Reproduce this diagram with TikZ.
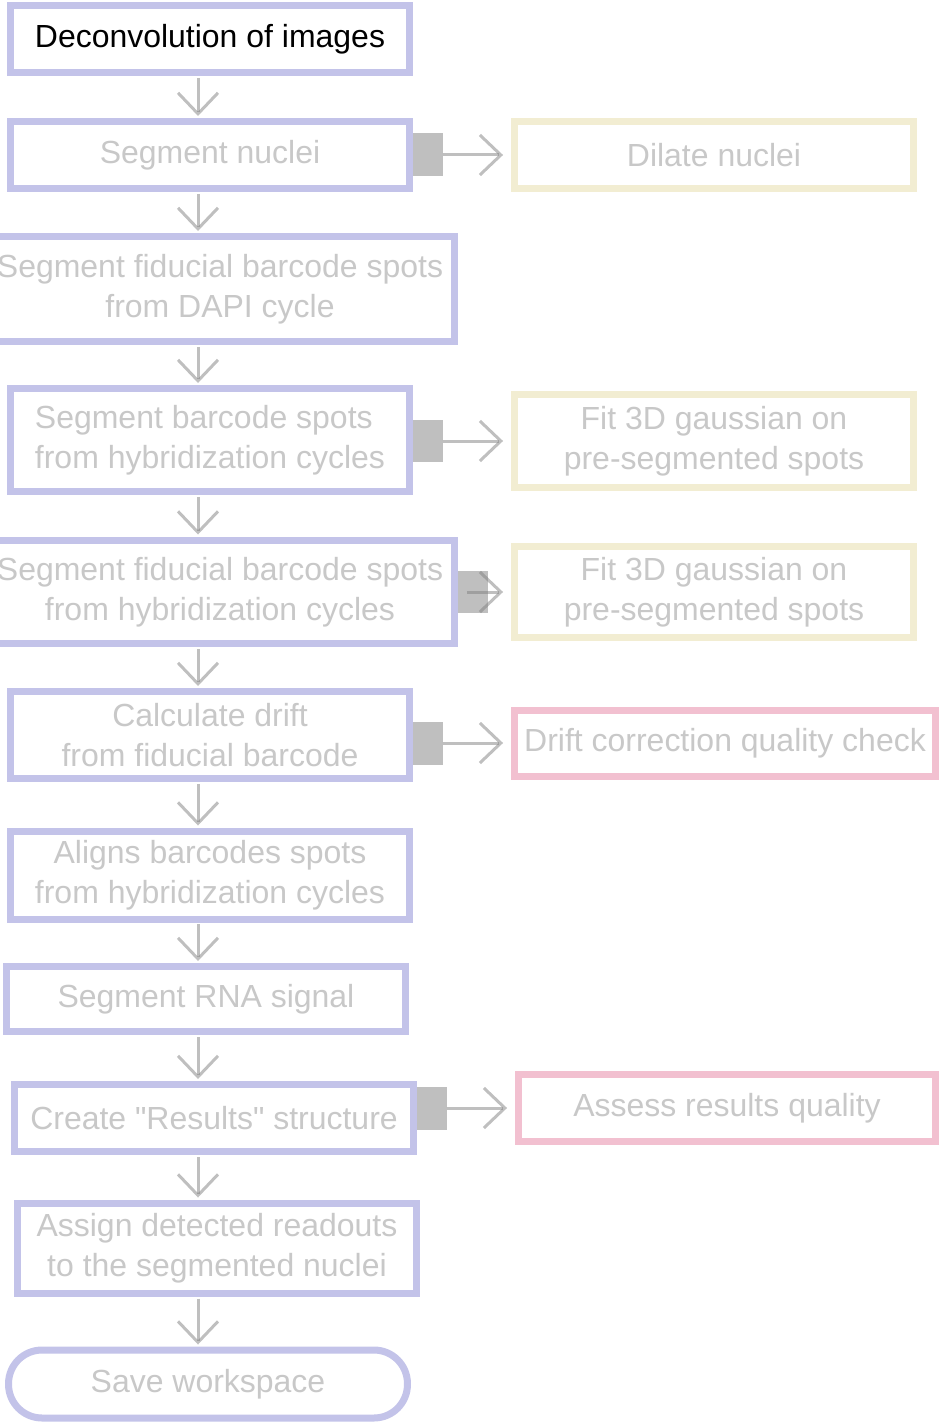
\documentclass[tikz,border=0pt]{standalone}
\usepackage{fontspec}
\setmainfont{Liberation Sans}
\usetikzlibrary{arrows.meta}
\definecolor{stepline}{RGB}{195,195,233}
\definecolor{sidecream}{RGB}{242,237,210}
\definecolor{qcpink}{RGB}{242,192,208}
\definecolor{tabgray}{RGB}{191,191,191}
\definecolor{textgray}{RGB}{200,200,200}
\tikzset{
	stepbox/.style={draw=stepline, line width=0.14cm, fill=white, text=textgray, align=center,
		minimum width=7.98cm, minimum height=1.34cm, inner sep=0pt,
		font=\fontsize{18.2}{22.8}\selectfont},
	sidebox/.style={stepbox, draw=#1},
	tab/.style={fill=tabgray, minimum width=0.6cm, minimum height=0.86cm, inner sep=0pt, anchor=west},
	flow/.style={draw=black!50, draw opacity=0.5, line width=0.06cm, -{Straight Barb[length=0.42cm,width=0.8cm]},
		shorten <=0.04cm, shorten >=0.04cm}
}

\begin{document}
\begin{tikzpicture}[x=0.02cm, y=-0.02cm]
		\useasboundingbox (0,0) rectangle (939,1425);
		\coordinate (spine) at (198,0);
		\node[stepbox, text=black] (deconv) at (210,39) {Deconvolution of images};
		\node[stepbox] (segnuc) at (210,155) {Segment nuclei};
		\node[stepbox, minimum width=9.38cm, minimum height=2.1cm] (fidDAPI) at (220,289) {Segment fiducial barcode spots\\from DAPI cycle};
		\node[stepbox, minimum height=2.06cm, align=left] (segbar) at (210,440) {Segment barcode spots\\from hybridization cycles};
		\node[stepbox, minimum width=9.38cm, minimum height=2.08cm] (fidhyb) at (220,592) {Segment fiducial barcode spots\\from hybridization cycles};
		\node[stepbox, minimum height=1.74cm] (drift) at (210,735) {Calculate drift\\from fiducial barcode};
		\node[stepbox, minimum height=1.76cm] (alignbc) at (210,875) {Aligns barcodes spots\\from hybridization cycles};
		\node[stepbox, minimum height=1.3cm] (segRNA) at (206,999) {Segment RNA signal};
		\node[stepbox] (results) at (214,1118) {Create \textquotedbl Results\textquotedbl{} structure};
		\node[stepbox, minimum width=8cm, minimum height=1.8cm] (assign) at (217,1248) {Assign detected readouts\\to the segmented nuclei};
		\node[stepbox, rounded corners=0.67cm, minimum height=1.36cm] (save) at (208,1384) {Save workspace};
		\node[sidebox=sidecream] (dilate) at (714,155) {Dilate nuclei};
		\node[sidebox=sidecream, minimum height=1.86cm] (fitA) at (714,441) {Fit 3D gaussian on\\pre-segmented spots};
		\node[sidebox=sidecream, minimum height=1.84cm] (fitB) at (714,592) {Fit 3D gaussian on\\pre-segmented spots};
		\node[sidebox=qcpink, minimum width=8.42cm, minimum height=1.32cm] (driftqc) at (725,743) {Drift correction quality check};
		\node[sidebox=qcpink, minimum width=8.34cm] (assess) at (727,1108) {Assess results quality};
		\node[tab] (segnuc-tab) at (segnuc.east |- dilate.west) {};
		\node[tab] (segbar-tab) at (segbar.east |- fitA.west) {};
		\node[tab] (fidhyb-tab) at (fidhyb.east |- fitB.west) {};
		\node[tab] (drift-tab) at (drift.east |- driftqc.west) {};
		\node[tab] (results-tab) at (results.east |- assess.west) {};
		\foreach \a/\b in {deconv/segnuc, segnuc/fidDAPI, fidDAPI/segbar, segbar/fidhyb, fidhyb/drift,
			drift/alignbc, alignbc/segRNA, segRNA/results, results/assign, assign/save}
		\draw[flow] (\a.south -| spine) -- (\b.north -| spine);
		\foreach \s/\t in {segnuc/dilate, segbar/fitA, drift/driftqc, results/assess}
		\draw[flow, shorten >=0.16cm] ([xshift=-0.06cm]\s-tab.east) -- (\t.west);
		\draw[flow, shorten >=0.16cm] ([xshift=0.14cm]fidhyb-tab.west) -- (fitB.west);
\end{tikzpicture}
\end{document}
